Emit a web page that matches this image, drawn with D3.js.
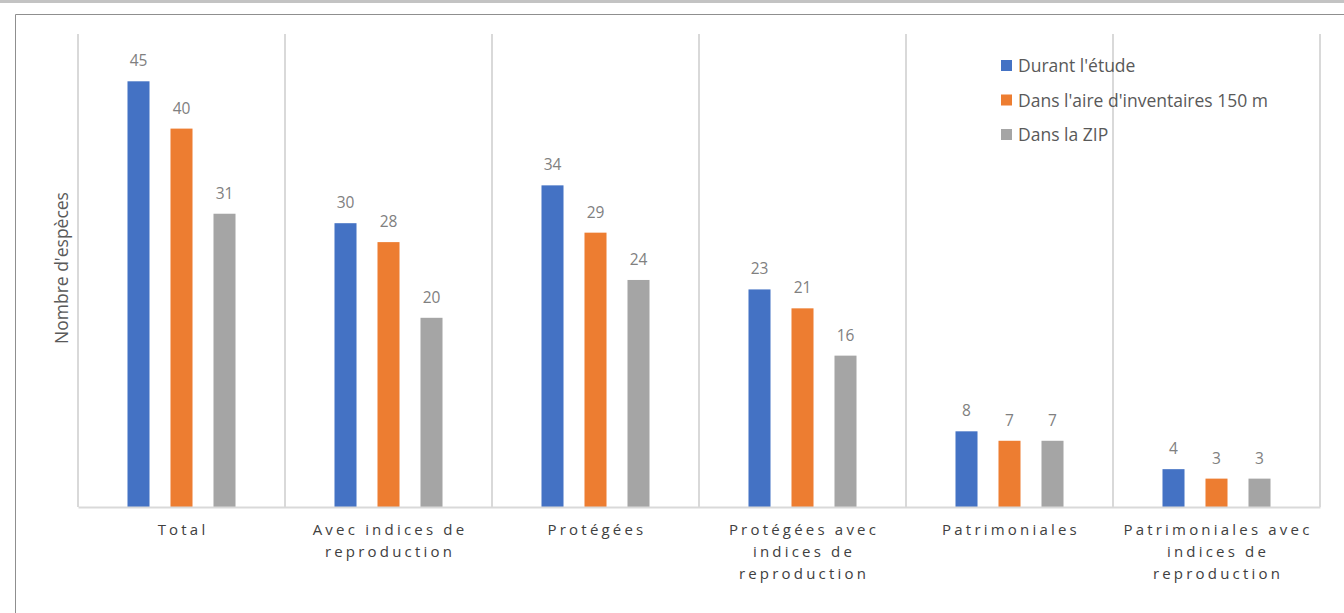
<!DOCTYPE html>
<meta charset="utf-8">
<script src="https://d3js.org/d3.v7.min.js"></script>
<style>
  body { margin: 0; background: #fff; }
  text { font-family: "Open Sans", "Noto Sans", sans-serif; }
</style>
<div id="chart"></div>
<script>

// categories (tick labels split in lines as in the picture)
var categories = ["Total", "Avec indices de reproduction", "Protégées", "Protégées avec indices de reproduction", "Patrimoniales", "Patrimoniales avec indices de reproduction"];
var tickLines = [
  ["Total"],
  ["Avec indices de", "reproduction"],
  ["Protégées"],
  ["Protégées avec", "indices de", "reproduction"],
  ["Patrimoniales"],
  ["Patrimoniales avec", "indices de", "reproduction"]
];
var seriesNames = ["Durant l'étude", "Dans l'aire d'inventaires 150 m", "Dans la ZIP"];
var duranteEtude = [45, 30, 34, 23, 8, 4];
var aireInventaires = [40, 28, 29, 21, 7, 3];
var dansZip = [31, 20, 24, 16, 7, 3];
var colors = ["#4472C4", "#ED7D31", "#A5A5A5"];

var series = [duranteEtude, aireInventaires, dansZip];

var W = 1344, H = 613;
var plot = {left: 78, right: 1320, top: 34, bottom: 507};

var svg = d3.select("#chart").append("svg")
  .attr("width", W).attr("height", H);

// outer bars / frame
svg.append("rect").attr("x", 0).attr("y", 0).attr("width", W).attr("height", 3).attr("fill", "#c3c3c3");
svg.append("path")
  .attr("d", "M15.5," + H + "V14.5H" + W)
  .attr("fill", "none").attr("stroke", "#8f8f8f").attr("stroke-width", 1);

var x = d3.scaleBand().domain(categories).range([plot.left, plot.right]).padding(0);
var xs = d3.scaleBand().domain(d3.range(3)).range([0, x.bandwidth()])
  .paddingInner(0.488).paddingOuter(1.151);
var y = d3.scaleLinear().domain([0, 50]).range([plot.bottom, plot.top]);

// vertical separators
var bounds = categories.map(function(c) { return x(c); }).concat([plot.right]);
svg.append("g").selectAll("line").data(bounds).join("line")
  .attr("x1", d => d).attr("x2", d => d)
  .attr("y1", plot.top).attr("y2", plot.bottom)
  .attr("stroke", "#d9d9d9").attr("stroke-width", 2);

// bars
var groups = svg.append("g").selectAll("g").data(series).join("g")
  .attr("fill", (d, i) => colors[i]);

groups.each(function(vals, si) {
  var g = d3.select(this);
  g.selectAll("rect").data(vals).join("rect")
    .attr("x", (d, i) => x(categories[i]) + xs(si))
    .attr("width", xs.bandwidth())
    .attr("y", d => y(d))
    .attr("height", d => y(0) - y(d));
  g.selectAll("text").data(vals).join("text")
    .attr("x", (d, i) => x(categories[i]) + xs(si) + xs.bandwidth() / 2)
    .attr("y", d => y(d) - 15)
    .attr("text-anchor", "middle")
    .attr("font-size", 15.5)
    .attr("fill", "#808080")
    .text(d => d);
});

// x axis
var xAxis = d3.axisBottom(x).tickSize(0).tickPadding(0).tickFormat("");
var gx = svg.append("g").attr("transform", "translate(0," + plot.bottom + ")").call(xAxis);
gx.select(".domain").attr("stroke", "#d9d9d9").attr("stroke-width", 2);
gx.selectAll(".tick text").remove();
gx.selectAll(".tick").each(function(d, i) {
  var t = d3.select(this).append("text")
    .attr("text-anchor", "middle")
    .attr("font-size", 15)
    .attr("fill", "#404040")
    .attr("letter-spacing", "3.2px");
  tickLines[i].forEach(function(line, k) {
    t.append("tspan").attr("x", 1.5).attr("y", 28 + k * 22).text(line);
  });
});

// y title
svg.append("text")
  .attr("transform", "translate(68,268) rotate(-90)")
  .attr("text-anchor", "middle")
  .attr("font-size", 17.5)
  .attr("fill", "#595959")
  .text("Nombre d'espèces");

// legend
var legend = svg.append("g").attr("transform", "translate(1001,60)");
var items = legend.selectAll("g").data(seriesNames).join("g")
  .attr("transform", (d, i) => "translate(0," + i * 34.5 + ")");
items.append("rect").attr("width", 11).attr("height", 11).attr("fill", (d, i) => colors[i]);
items.append("text").attr("x", 17).attr("y", 12).attr("font-size", 17.5)
  .attr("fill", "#595959").text(d => d);

</script>
